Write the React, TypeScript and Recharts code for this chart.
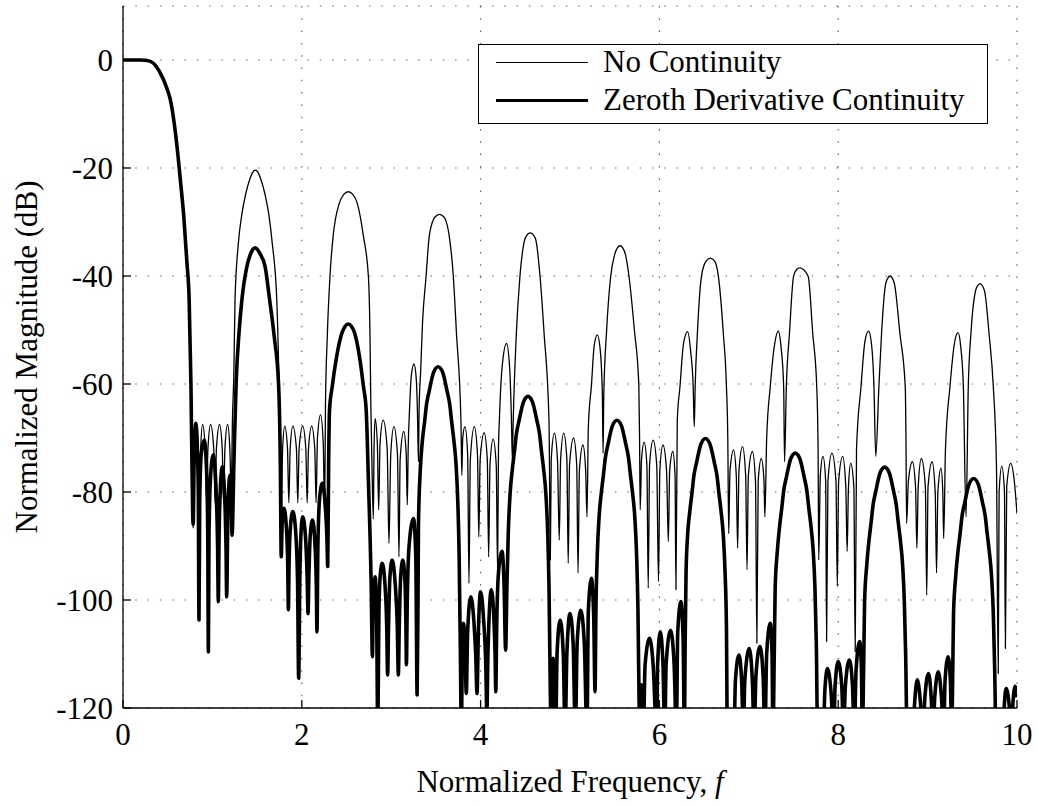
import { LineChart, Line, XAxis, YAxis, CartesianGrid, Legend, Label } from "recharts";

const FONT = "'Liberation Serif', 'Times New Roman', serif";

const freqTicks = [0, 2, 4, 6, 8, 10];
const dbTicks = [-120, -100, -80, -60, -40, -20, 0];

// [normalized frequency, dB]
const mainLobe = [
  [0, 0], [0.1, 0], [0.2, 0], [0.27, -0.1], [0.34, -0.6], [0.41, -2.2], [0.49, -5.2], [0.53, -7.4],
  [0.6, -15.4], [0.645, -22.8], [0.68, -29], [0.715, -37.5], [0.74, -44.4], [0.76, -60], [0.78, -84.6],
];

const noContinuityPts = [
  [0.785, -86.7], [0.797, -72], [0.82, -67.4], [0.843, -73], [0.855, -82], [0.867, -73], [0.89, -67.5], [0.92, -72], [0.935, -82], [0.95, -72], [0.98, -67.5], [1.015, -72], [1.03, -82], [1.045, -72], [1.08, -67.5], [1.11, -72], [1.125, -82], [1.14, -72], [1.17, -67.5], [1.195, -72], [1.21, -80],
  [1.225, -66], [1.24, -58], [1.253, -44.4], [1.29, -34], [1.33, -28.5], [1.37, -25], [1.42, -22], [1.45, -20.8], [1.48, -20.4], [1.51, -20.8], [1.54, -22], [1.59, -25], [1.63, -28.5], [1.67, -34], [1.72, -44.4], [1.745, -60], [1.77, -88],
  [1.785, -72], [1.81, -67.8], [1.84, -72], [1.855, -82], [1.87, -72], [1.9, -67.8], [1.94, -72], [1.955, -82], [1.97, -72], [2.01, -67.8], [2.045, -72], [2.06, -82], [2.075, -72], [2.11, -67.8], [2.145, -72], [2.16, -82], [2.175, -70], [2.21, -65.7], [2.24, -71], [2.255, -84],
  [2.265, -63.6], [2.285, -51.2], [2.315, -40.1], [2.35, -32.7], [2.42, -26.5], [2.47, -24.9], [2.52, -24.4], [2.57, -24.9], [2.62, -26.5], [2.69, -32.7], [2.745, -40.1], [2.763, -51.2], [2.772, -63.6], [2.785, -75], [2.8, -85],
  [2.808, -72], [2.82, -66.4], [2.845, -71], [2.86, -83.3], [2.875, -71], [2.91, -66.7], [2.955, -72], [2.975, -89.5], [2.995, -73], [3.03, -67.9], [3.07, -73], [3.087, -92], [3.1, -74], [3.14, -68.8], [3.168, -73], [3.18, -82.4],
  [3.19, -72], [3.205, -64.8], [3.225, -58.5], [3.255, -56.3], [3.28, -59], [3.293, -64.8], [3.305, -74.4],
  [3.312, -64.8], [3.33, -57.4], [3.35, -48.8], [3.39, -40.1], [3.425, -32.7], [3.48, -29.3], [3.51, -28.8], [3.54, -28.6], [3.57, -28.8], [3.6, -29.3], [3.65, -32.7], [3.695, -40.1], [3.73, -50.6], [3.78, -66.7], [3.79, -76.9],
  [3.8, -70], [3.825, -67.9], [3.855, -73], [3.87, -96.9], [3.885, -74], [3.93, -67.9], [3.965, -73], [3.98, -88.3], [3.995, -74], [4.04, -69], [4.075, -74], [4.09, -92], [4.105, -75], [4.14, -70.2], [4.175, -75], [4.19, -94.7],
  [4.2, -72], [4.21, -66.7], [4.24, -57], [4.29, -52.5], [4.325, -57], [4.345, -66.7], [4.355, -74],
  [4.365, -66.7], [4.4, -50.6], [4.44, -40.1], [4.49, -33.5], [4.52, -32.4], [4.555, -32], [4.59, -32.4], [4.62, -33.5], [4.665, -40.1], [4.71, -50.6], [4.765, -66.7], [4.78, -92.6],
  [4.79, -74], [4.825, -69.1], [4.86, -74], [4.88, -88.9], [4.895, -74], [4.93, -69.1], [4.965, -74], [4.98, -93.2], [4.995, -75], [5.04, -70], [5.075, -75], [5.09, -95], [5.105, -76], [5.145, -71.3], [5.175, -76], [5.19, -84.6],
  [5.205, -68], [5.24, -60.2], [5.27, -53], [5.305, -50.9], [5.34, -54], [5.362, -62], [5.37, -72.8],
  [5.378, -62], [5.41, -50], [5.455, -40.1], [5.5, -36], [5.53, -34.8], [5.56, -34.4], [5.59, -34.8], [5.62, -36], [5.66, -40.1], [5.72, -50], [5.77, -60.2], [5.778, -70], [5.785, -83.3],
  [5.8, -74], [5.83, -70.8], [5.86, -75], [5.875, -97.8], [5.89, -75], [5.93, -70.4], [5.97, -75], [5.99, -96.6], [6.005, -76], [6.04, -71.3], [6.08, -76], [6.1, -89.2], [6.115, -76], [6.15, -72.5], [6.175, -77], [6.185, -98.1],
  [6.2, -66.7], [6.23, -60.5], [6.27, -52.5], [6.315, -50.3], [6.35, -54], [6.378, -60.5], [6.39, -67.9],
  [6.4, -60.5], [6.425, -50.6], [6.47, -40.1], [6.52, -37.3], [6.57, -36.7], [6.62, -37.3], [6.66, -40.1], [6.715, -50.6], [6.75, -60.5], [6.765, -70], [6.775, -87.7],
  [6.79, -76], [6.83, -72.2], [6.86, -77], [6.875, -90.4], [6.89, -76], [6.93, -71.6], [6.965, -77], [6.98, -94.4], [6.995, -77], [7.04, -72.5], [7.075, -78], [7.09, -108], [7.105, -78], [7.14, -73.8], [7.17, -78], [7.18, -84.6],
  [7.2, -70], [7.24, -60.5], [7.29, -52.5], [7.33, -50.2], [7.36, -53], [7.39, -60.5], [7.4, -74.4],
  [7.42, -60.5], [7.455, -50.6], [7.5, -40.1], [7.535, -38.8], [7.57, -38.5], [7.61, -38.8], [7.665, -40.1], [7.715, -50.6], [7.76, -60.5], [7.775, -72], [7.782, -92.6],
  [7.8, -77], [7.83, -73.4], [7.86, -78], [7.87, -107.7], [7.885, -78], [7.93, -72.8], [7.975, -78], [7.99, -97.5], [8.005, -78], [8.05, -73.4], [8.085, -79], [8.1, -91], [8.115, -79], [8.14, -74.7], [8.175, -79], [8.19, -109.6],
  [8.205, -72], [8.255, -60.5], [8.3, -52], [8.34, -50.2], [8.375, -53], [8.4, -60.5], [8.42, -73.4],
  [8.455, -60.5], [8.485, -50.6], [8.53, -41.5], [8.555, -40.4], [8.58, -40], [8.605, -40.4], [8.63, -41.5], [8.69, -50.6], [8.75, -60.5], [8.758, -70], [8.765, -85.8],
  [8.785, -78], [8.83, -74.4], [8.865, -79], [8.88, -90.4], [8.895, -79], [8.93, -73.8], [8.975, -79], [8.99, -99.1], [9.005, -79], [9.05, -74.4], [9.085, -80], [9.1, -95], [9.115, -80], [9.15, -75.6], [9.17, -80], [9.18, -88.6],
  [9.2, -72], [9.25, -60.5], [9.3, -52.5], [9.34, -50.5], [9.37, -53], [9.4, -60.5], [9.43, -84.6],
  [9.455, -60.5], [9.485, -50.6], [9.54, -42.5], [9.565, -41.7], [9.59, -41.4], [9.615, -41.9], [9.64, -43], [9.687, -50.6], [9.735, -60.5], [9.77, -75], [9.79, -113.6],
  [9.8, -80], [9.83, -75.2], [9.86, -80], [9.87, -109], [9.885, -79], [9.93, -74.7], [9.97, -78], [10, -84],
];

const zerothPts = [
  [0.785, -86], [0.795, -75], [0.815, -67.3], [0.83, -71], [0.842, -80], [0.85, -103.7], [0.858, -82], [0.875, -73], [0.91, -70.4], [0.935, -76], [0.948, -88], [0.955, -109.6], [0.962, -88], [0.98, -77], [1.01, -73.1], [1.04, -79], [1.058, -90], [1.066, -100.3], [1.075, -88], [1.09, -79], [1.11, -75.3], [1.135, -80], [1.152, -90], [1.16, -99.4], [1.17, -88], [1.18, -80], [1.197, -76.9], [1.21, -80], [1.22, -88],
  [1.24, -75], [1.265, -60], [1.3, -50], [1.33, -44.4], [1.385, -38.3], [1.43, -35.8], [1.48, -34.8], [1.53, -35.8], [1.59, -38.3], [1.64, -44.4], [1.69, -51], [1.74, -60], [1.76, -75], [1.77, -92],
  [1.78, -86], [1.8, -83], [1.825, -86], [1.842, -93], [1.85, -101.8], [1.858, -93], [1.875, -86], [1.9, -83.6], [1.93, -87], [1.952, -96], [1.965, -114.5], [1.978, -96], [1.99, -88], [2.01, -84.6], [2.04, -88], [2.06, -96], [2.07, -102.5], [2.08, -95], [2.095, -88], [2.12, -85.2], [2.145, -89], [2.162, -97], [2.17, -105.9], [2.18, -90], [2.2, -81], [2.23, -78.4], [2.26, -82], [2.28, -88], [2.29, -93.8],
  [2.3, -75], [2.31, -64.8], [2.34, -60.5], [2.39, -54.9], [2.45, -50.5], [2.485, -49.3], [2.52, -48.9], [2.555, -49.3], [2.59, -50.5], [2.645, -54.9], [2.69, -60.5], [2.72, -64.8], [2.745, -77.8], [2.775, -96.3], [2.79, -110.5],
  [2.8, -100], [2.82, -95.7], [2.837, -103], [2.85, -125], [2.862, -103], [2.875, -96], [2.9, -93.2], [2.93, -97], [2.95, -105], [2.96, -113.9], [2.97, -105], [2.985, -96], [3.01, -92.6], [3.04, -96], [3.068, -105], [3.08, -113.9], [3.09, -105], [3.105, -96], [3.13, -92.6], [3.155, -97], [3.165, -105], [3.17, -112], [3.18, -100], [3.2, -90], [3.25, -84.9], [3.275, -92], [3.29, -117.6],
  [3.3, -100], [3.305, -86], [3.325, -76], [3.35, -70.3], [3.375, -66.8], [3.395, -63.8], [3.425, -61.3], [3.475, -57.8], [3.525, -56.8], [3.575, -57.8], [3.625, -61.3], [3.655, -63.8], [3.675, -66.8], [3.7, -70.3], [3.725, -74.8], [3.745, -81.8], [3.76, -91.8], [3.775, -111.8], [3.785, -125],
  [3.795, -110], [3.81, -104.3], [3.825, -108], [3.84, -117.3], [3.855, -106], [3.89, -99.4], [3.925, -104], [3.945, -110], [3.96, -117.3], [3.975, -106], [4.0, -98.5], [4.035, -104], [4.058, -112], [4.07, -121], [4.082, -110], [4.12, -98.1], [4.15, -104], [4.162, -110], [4.17, -117], [4.18, -105], [4.2, -95], [4.24, -91], [4.262, -97], [4.28, -109.3],
  [4.295, -97], [4.31, -87.3], [4.33, -80.3], [4.355, -75.8], [4.38, -72.3], [4.4, -69.3], [4.43, -66.8], [4.48, -63.3], [4.53, -62.3], [4.58, -63.3], [4.63, -66.8], [4.66, -69.3], [4.68, -72.3], [4.705, -75.8], [4.73, -80.3], [4.75, -87.3], [4.765, -97.3], [4.78, -117.3], [4.79, -125],
  [4.8, -114], [4.81, -110.8], [4.825, -115], [4.84, -125], [4.855, -110], [4.89, -103.7], [4.925, -110], [4.945, -125], [4.965, -110], [5.0, -102.5], [5.035, -108], [5.06, -125], [5.08, -108], [5.12, -101.9], [5.16, -108], [5.19, -125], [5.205, -102], [5.24, -96], [5.265, -103], [5.28, -117],
  [5.29, -102], [5.305, -91.7], [5.325, -84.7], [5.35, -80.2], [5.375, -76.7], [5.395, -73.7], [5.425, -71.2], [5.475, -67.7], [5.525, -66.7], [5.575, -67.7], [5.625, -71.2], [5.655, -73.7], [5.675, -76.7], [5.7, -80.2], [5.725, -84.7], [5.745, -91.7], [5.76, -101.7], [5.775, -121.7], [5.78, -125],
  [5.79, -118], [5.8, -115.7], [5.81, -119], [5.82, -125], [5.84, -112], [5.89, -107.1], [5.93, -112], [5.97, -125], [5.98, -112], [6.01, -105.9], [6.04, -112], [6.06, -125], [6.075, -112], [6.125, -105.6], [6.165, -112], [6.19, -125], [6.205, -106], [6.24, -100.3], [6.265, -107], [6.28, -125],
  [6.288, -108], [6.298, -95.1], [6.315, -88.1], [6.34, -83.6], [6.365, -80.1], [6.385, -77.1], [6.415, -74.6], [6.465, -71.1], [6.515, -70.1], [6.565, -71.1], [6.615, -74.6], [6.645, -77.1], [6.665, -80.1], [6.69, -83.6], [6.715, -88.1], [6.735, -95.1], [6.75, -105.1], [6.76, -125],
  [6.835, -125], [6.85, -115], [6.89, -110.2], [6.92, -115], [6.94, -125], [6.955, -115], [7.005, -109], [7.04, -115], [7.06, -125], [7.08, -114], [7.125, -108.6], [7.16, -114], [7.18, -125], [7.2, -110], [7.24, -104.3], [7.26, -110], [7.27, -125],
  [7.285, -110], [7.295, -97.8], [7.32, -90.8], [7.345, -86.3], [7.37, -82.8], [7.39, -79.8], [7.42, -77.3], [7.47, -73.8], [7.52, -72.8], [7.57, -73.8], [7.62, -77.3], [7.65, -79.8], [7.67, -82.8], [7.695, -86.3], [7.72, -90.8], [7.74, -97.8], [7.755, -107.8], [7.77, -125],
  [7.835, -125], [7.85, -117], [7.88, -112.7], [7.92, -117], [7.95, -125], [7.965, -116], [8.0, -111.4], [8.04, -116], [8.06, -125], [8.08, -116], [8.125, -111.1], [8.16, -116], [8.18, -125], [8.2, -113], [8.24, -107.7], [8.26, -113], [8.27, -125],
  [8.285, -112], [8.295, -100.4], [8.32, -93.4], [8.345, -88.9], [8.37, -85.4], [8.39, -82.4], [8.42, -79.9], [8.47, -76.4], [8.52, -75.4], [8.57, -76.4], [8.62, -79.9], [8.65, -82.4], [8.67, -85.4], [8.695, -88.9], [8.72, -93.4], [8.74, -100.4], [8.755, -110.4], [8.77, -125],
  [8.835, -125], [8.855, -119], [8.885, -114.8], [8.92, -119], [8.945, -125], [8.97, -118], [9.01, -113.6], [9.04, -118], [9.06, -125], [9.08, -118], [9.12, -113.3], [9.155, -118], [9.18, -125], [9.195, -115], [9.23, -110.5], [9.255, -115], [9.27, -125],
  [9.28, -115], [9.29, -102.5], [9.315, -95.5], [9.34, -91], [9.365, -87.5], [9.385, -84.5], [9.415, -82], [9.465, -78.5], [9.515, -77.5], [9.565, -78.5], [9.615, -82], [9.645, -84.5], [9.665, -87.5], [9.69, -91], [9.715, -95.5], [9.735, -102.5], [9.75, -112.5], [9.765, -125],
  [9.845, -125], [9.86, -119], [9.88, -116.4], [9.91, -119], [9.94, -125], [9.955, -119], [9.98, -116], [10, -118],
];

const toRows = (pts: number[][]) => pts.map(([f, db]) => ({ f, db }));
const noContinuityData = toRows([...mainLobe, ...noContinuityPts]);
const zerothData = toRows([...mainLobe, ...zerothPts]);

const tickStyle = { fontSize: 31, fontFamily: FONT, fill: "#000" };

function LegendBox() {
  const row = (top: number, weight: number, text: string) => (
    <div
      style={{
        position: "absolute",
        left: 0,
        top,
        height: 36,
        display: "flex",
        alignItems: "center",
        whiteSpace: "nowrap",
      }}
    >
      <div style={{ marginLeft: 17, width: 92, borderTop: `${weight}px solid #000` }} />
      <span style={{ marginLeft: 15, lineHeight: "36px" }}>{text}</span>
    </div>
  );
  return (
    <div
      style={{
        position: "relative",
        width: 510,
        height: 80,
        border: "1.5px solid #000",
        background: "#fff",
        boxSizing: "border-box",
        fontFamily: FONT,
        fontSize: 31,
        color: "#000",
      }}
    >
      {row(-1, 1.3, "No Continuity")}
      {row(37, 3.6, "Zeroth Derivative Continuity")}
    </div>
  );
}

const renderXLabel = (props: any) => {
  const vb = props.viewBox;
  return (
    <text x={vb.x + vb.width / 2} y={vb.y + 84} textAnchor="middle" fontSize={31} fontFamily={FONT} fill="#000">
      Normalized Frequency, <tspan fontStyle="italic">f</tspan>
    </text>
  );
};

const renderYLabel = (props: any) => {
  const vb = props.viewBox;
  const cy = vb.y + vb.height / 2;
  return (
    <text x={37} y={cy} transform={`rotate(-90, 37, ${cy})`} textAnchor="middle" fontSize={31} fontFamily={FONT} fill="#000">
      Normalized Magnitude (dB)
    </text>
  );
};

export default function App() {
  return (
    <div style={{ position: "fixed", left: 0, top: 0, width: 1038, height: 806, background: "#fff" }}>
      <LineChart width={1038} height={806} margin={{ top: 6, right: 21, left: 0, bottom: 0 }}>
        <CartesianGrid stroke="#000" strokeOpacity={0.6} strokeWidth={1.2} strokeDasharray="1.5 10.8" />
        <XAxis
          dataKey="f"
          type="number"
          domain={[0, 10]}
          ticks={freqTicks}
          height={98}
          stroke="#000"
          strokeWidth={1.3}
          tickSize={-8}
          tickMargin={23}
          tick={tickStyle}
          allowDataOverflow
        >
          <Label content={renderXLabel} />
        </XAxis>
        <XAxis
          xAxisId="top"
          orientation="top"
          dataKey="f"
          type="number"
          domain={[0, 10]}
          ticks={freqTicks}
          height={0}
          stroke="#000"
          strokeWidth={1.3}
          tickSize={-8}
          tickFormatter={() => ""}
          allowDataOverflow
        />
        <YAxis
          type="number"
          domain={[-120, 10]}
          ticks={dbTicks}
          width={123}
          stroke="#000"
          strokeWidth={1.3}
          tickSize={-8}
          tickMargin={18}
          tick={tickStyle}
          allowDataOverflow
        >
          <Label content={renderYLabel} />
        </YAxis>
        <YAxis
          yAxisId="right"
          orientation="right"
          type="number"
          domain={[-120, 10]}
          ticks={dbTicks}
          width={0}
          stroke="#000"
          strokeWidth={1.3}
          tickSize={-8}
          tickFormatter={() => ""}
          allowDataOverflow
        />
        <Legend
          layout="horizontal"
          verticalAlign="middle"
          align="center"
          content={() => <LegendBox />}
          wrapperStyle={{ position: "absolute", left: 478, top: 44, width: 510, height: 80 }}
        />
        <Line
          data={noContinuityData}
          dataKey="db"
          name="No Continuity"
          type="monotone"
          stroke="#000"
          strokeWidth={1.3}
          strokeLinejoin="round"
          dot={false}
          activeDot={false}
          isAnimationActive={false}
        />
        <Line
          data={zerothData}
          dataKey="db"
          name="Zeroth Derivative Continuity"
          type="monotone"
          stroke="#000"
          strokeWidth={3.6}
          strokeLinejoin="round"
          dot={false}
          activeDot={false}
          isAnimationActive={false}
        />
      </LineChart>
    </div>
  );
}
